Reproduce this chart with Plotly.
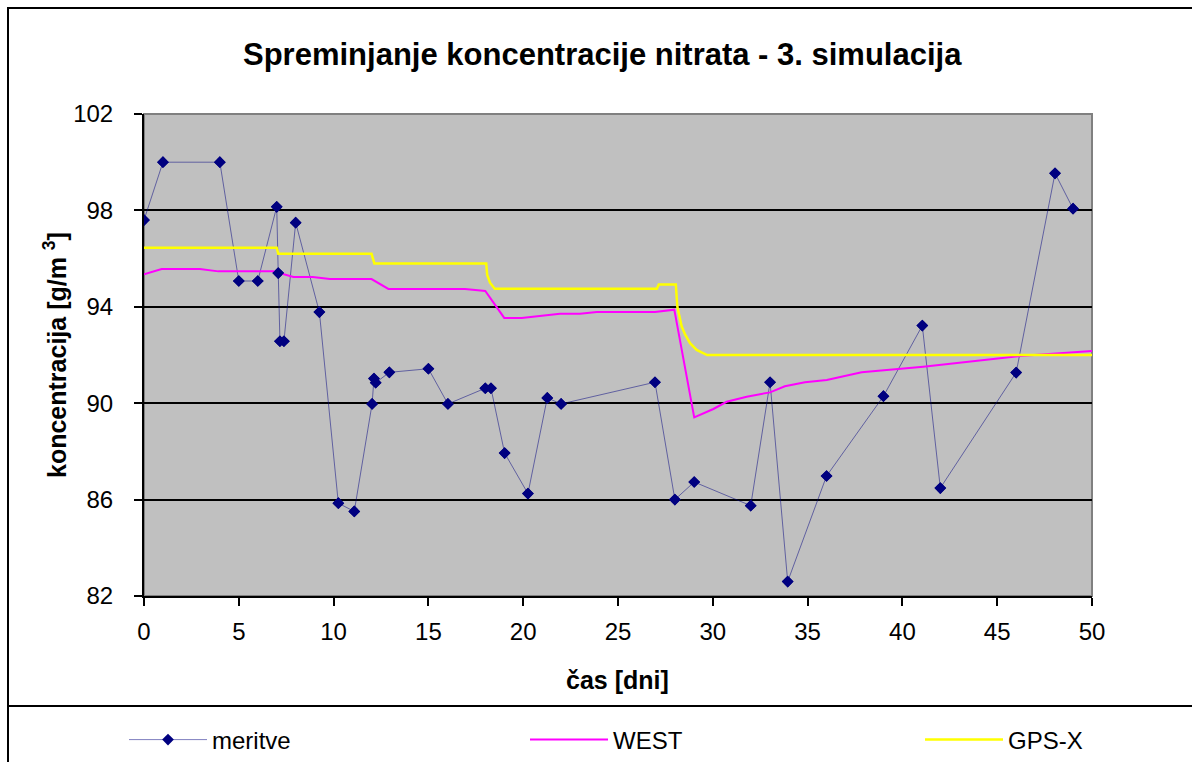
import plotly.graph_objects as go

# ---- data ----
meritve_x = [0, 1, 4, 5, 6, 7, 7.08, 7.17, 7.38, 8, 9.25, 10.25, 11.09, 12.03, 12.13, 12.22,
             12.94, 15.0, 16.03, 18.0, 18.3, 19.02, 20.25, 21.27, 22.0, 26.95, 28.0, 29.02,
             32.0, 33.02, 33.95, 36.0, 39.0, 41.05, 42.0, 46.0, 48.05, 49.0]
meritve_y = [97.6, 100, 100, 95.07, 95.07, 98.15, 95.4, 92.57, 92.57, 97.49, 93.78, 85.85,
             85.51, 89.97, 91.02, 90.85, 91.28, 91.43, 89.97, 90.62, 90.62, 87.93, 86.25,
             90.22, 89.97, 90.87, 86.0, 86.73, 85.75, 90.87, 82.6, 86.98, 90.29, 93.22,
             86.48, 91.27, 99.54, 98.07]

west_x = [0, 0.93, 2.95, 3.92, 6.82, 7.88, 8.9, 9.8, 12.0, 12.89, 16.93, 18.0, 19.0, 19.92,
          21.94, 23.0, 23.88, 26.95, 27.97, 29.02, 30.03, 30.73, 31.79, 33.02, 33.8, 34.86,
          36.01, 37.85, 41.1, 43.39, 46.2, 50]
west_y = [95.35, 95.57, 95.57, 95.47, 95.47, 95.24, 95.24, 95.15, 95.15, 94.74, 94.74, 94.66,
          93.54, 93.54, 93.71, 93.71, 93.78, 93.78, 93.88, 89.41, 89.76, 90.06, 90.27, 90.45,
          90.7, 90.87, 90.96, 91.28, 91.51, 91.71, 91.96, 92.17]

gps_x = [0, 7.0, 7.08, 12.0, 12.15, 18.05, 18.1, 18.25, 18.5, 27.05, 27.15, 28.05, 28.13,
         28.36, 28.55, 28.8, 29.15, 29.7, 50]
gps_y = [96.45, 96.45, 96.2, 96.2, 95.8, 95.8, 95.32, 95.0, 94.75, 94.75, 94.93, 94.93, 94.0,
         93.18, 92.83, 92.49, 92.21, 92.0, 92.0]

x_ticks = [0, 5, 10, 15, 20, 25, 30, 35, 40, 45, 50]
y_ticks = [82, 86, 90, 94, 98, 102]

title_text = "Spreminjanje koncentracije nitrata - 3. simulacija"
x_title = "čas [dni]"
y_title = "koncentracija [g/m <sup>3</sup>]"

FONT = "Liberation Sans, Arial, sans-serif"

# ---- geometry (px) ----
W, H = 1192, 762
L, R, T, B = 144, 1092, 114, 596
PW, PH = R - L, B - T


def px(xp):
    return (xp - L) / PW


def py(yp):
    return (B - yp) / PH


fig = go.Figure()

fig.add_trace(go.Scatter(
    x=meritve_x, y=meritve_y, mode="lines+markers", name="meritve",
    line=dict(color="rgba(0,0,128,0.5)", width=1),
    marker=dict(symbol="diamond", size=9, color="#000080"),
    legend="legend"))
fig.add_trace(go.Scatter(
    x=west_x, y=west_y, mode="lines", name="WEST",
    line=dict(color="#FF00FF", width=2), legend="legend2"))
fig.add_trace(go.Scatter(
    x=gps_x, y=gps_y, mode="lines", name="GPS-X",
    line=dict(color="#FFFF00", width=2.5), legend="legend3"))
fig.add_trace(go.Scatter(
    x=meritve_x, y=meritve_y, mode="markers", showlegend=False, hoverinfo="skip",
    marker=dict(symbol="diamond", size=9, color="#000080")))

leg_common = dict(orientation="v", bgcolor="rgba(0,0,0,0)", borderwidth=0,
                  font=dict(family=FONT, size=24, color="#000000"),
                  itemwidth=78, yanchor="middle", xanchor="left",
                  y=py(740))

fig.update_layout(
    width=W, height=H,
    margin=dict(l=L, r=W - R, t=T, b=H - B, autoexpand=False),
    paper_bgcolor="white", plot_bgcolor="#C0C0C0",
    font=dict(family=FONT, size=24, color="#000000"),
    showlegend=True,
    legend=dict(leg_common, x=px(124)),
    legend2=dict(leg_common, x=px(525)),
    legend3=dict(leg_common, x=px(920)),
    xaxis=dict(range=[0, 50], tickvals=x_ticks, showgrid=False, zeroline=False,
               showline=True, linecolor="#000000", linewidth=2,
               ticks="outside", ticklen=8, tickwidth=2, tickcolor="#000000",
               tickfont=dict(family=FONT, size=24), ticklabelstandoff=5),
    yaxis=dict(range=[82, 102], tickvals=y_ticks, showgrid=True, gridcolor="#000000",
               gridwidth=2, zeroline=False,
               showline=True, linecolor="#000000", linewidth=2,
               ticks="outside", ticklen=8, tickwidth=2, tickcolor="#000000",
               tickfont=dict(family=FONT, size=24), ticklabelstandoff=16),
    shapes=[
        # plot frame (top/right grey)
        dict(type="rect", xref="paper", yref="paper", x0=0, x1=1, y0=0, y1=1,
             line=dict(color="#808080", width=2), layer="below"),
        # outer chart border
        dict(type="rect", xref="paper", yref="paper", x0=px(8), x1=px(1205),
             y0=py(775), y1=py(8), line=dict(color="#000000", width=2)),
        # legend separator
        dict(type="line", xref="paper", yref="paper", x0=px(8), x1=px(1205),
             y0=py(706), y1=py(706), line=dict(color="#000000", width=2)),
    ],
    annotations=[
        dict(text=f"<b>{title_text}</b>", xref="paper", yref="paper",
             x=px(602), y=py(55), xanchor="center", yanchor="middle", showarrow=False,
             font=dict(family=FONT, size=31, color="#000000")),
        dict(text=f"<b>{x_title}</b>", xref="paper", yref="paper",
             x=px(617), y=py(680), xanchor="center", yanchor="middle", showarrow=False,
             font=dict(family=FONT, size=25, color="#000000")),
        dict(text=f"<b>{y_title}</b>", xref="paper", yref="paper", textangle=-90,
             x=px(55), y=py(355), xanchor="center", yanchor="middle", showarrow=False,
             font=dict(family=FONT, size=25, color="#000000")),
    ],
)

fig.write_html("out.html", config={"displayModeBar": False},
               post_script="document.body.style.margin='0';document.body.style.overflow='hidden';")
